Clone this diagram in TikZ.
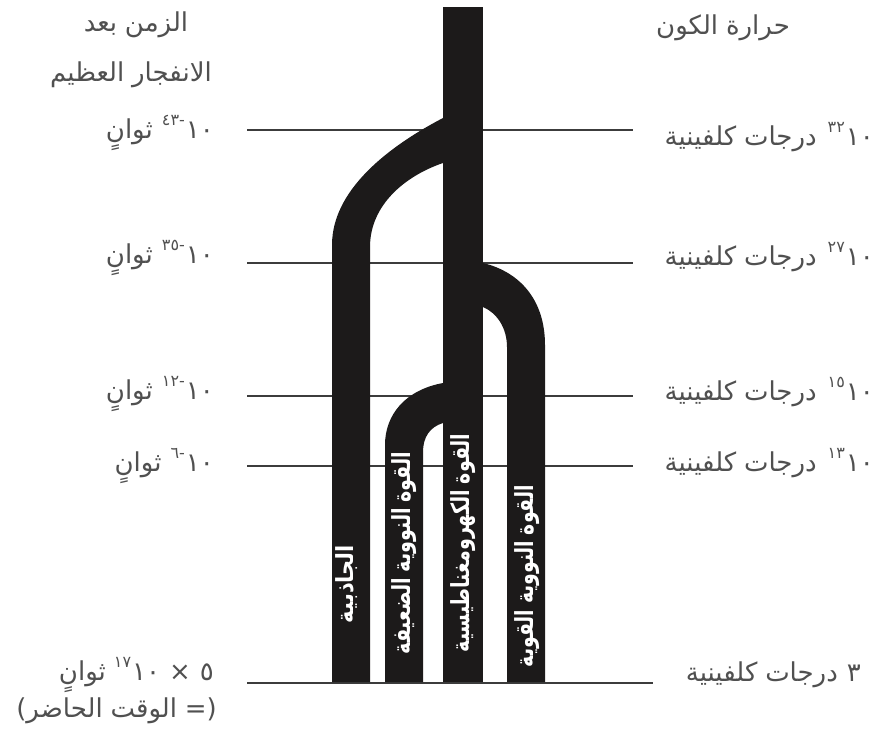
\documentclass[tikz,border=0pt]{standalone}
\usepackage{fontspec}
\usepackage{graphicx}
\TeXXeTstate=1
\newfontfamily\arfont[Script=Arabic]{DejaVu Sans}
\newfontfamily\dvfont[Script=Latin]{DejaVu Sans}
\definecolor{txt}{HTML}{505050}
\definecolor{barc}{HTML}{1C1A1A}
\definecolor{linec}{HTML}{3C3C3C}
% every piece is a separate box, placed in visual order (left to right)
\newcommand{\aw}[1]{\mbox{#1}}
\newcommand{\lat}[1]{\mbox{\dvfont #1}}
\newcommand{\ws}{\hspace{0.3em}}
\newcommand{\ten}{\mbox{١}\mbox{٠}}
\newcommand{\sps}[1]{\raisebox{0.5em}{\fontsize{16}{16}\selectfont #1}}
\begin{document}
\begin{tikzpicture}[x=1pt,y=-1pt,
  lbl/.style={text=txt,font=\arfont\fontsize{26}{30}\selectfont,inner sep=0pt},
  hline/.style={draw=linec,line width=1.8pt},
  bar/.style={fill=barc,draw=none},
  bartxt/.style={text=white,font=\arfont\bfseries,rotate=90,inner sep=0pt}]
\useasboundingbox (0,0) rectangle (881,751);
% horizontal lines
\coordinate (L1a) at (247,130); \coordinate (L1b) at (633,130);
\coordinate (L2a) at (247,263); \coordinate (L2b) at (633,263);
\coordinate (L3a) at (247,396); \coordinate (L3b) at (633,396);
\coordinate (L4a) at (247,466); \coordinate (L4b) at (633,466);
\coordinate (L5a) at (247,683); \coordinate (L5b) at (653,683);
\draw[hline] (L1a) -- (L1b);
\draw[hline] (L2a) -- (L2b);
\draw[hline] (L3a) -- (L3b);
\draw[hline] (L4a) -- (L4b);
\draw[hline] (L5a) -- (L5b);
% trunk
\fill[bar] (443,7) rectangle (483,682);
% gravity branch
\fill[bar] (332,682) -- (332,245) .. controls (332,185) and (399,141) .. (443,118) -- (447,117) -- (447,164) -- (443,163) .. controls (405,176) and (370,205) .. (370,247) -- (370,682) -- cycle;
% strong branch
\fill[bar] (479,263) -- (483,263) .. controls (520,272) and (545,300) .. (545,345) -- (545,682) -- (507,682) -- (507,347) .. controls (507,328) and (497,313) .. (483,307) -- (479,307) -- cycle;
% weak branch
\fill[bar] (385,682) -- (385,445) .. controls (385,415) and (405,390) .. (443,383) -- (447,383) -- (447,423) -- (443,423) .. controls (430,427) and (423,437) .. (423,452) -- (423,682) -- cycle;
% bar texts
\node[bartxt] (tg) at (347,584) {\resizebox*{78pt}{22pt}{\aw{الجاذبية}}};
\node[bartxt] (tw) at (404,553) {\resizebox*{203pt}{25pt}{\aw{الضعيفة}\ws\aw{النووية}\ws\aw{القوة}}};
\node[bartxt] (te) at (463,543) {\resizebox*{219pt}{25pt}{\aw{الكهرومغناطيسية}\ws\aw{القوة}}};
\node[bartxt] (ts) at (527,576) {\resizebox*{182pt}{25pt}{\aw{القوية}\ws\aw{النووية}\ws\aw{القوة}}};
% headings
\node[lbl] (h1) at (136,25) {\aw{بعد}\ws\aw{الزمن}};
\node[lbl] (h2) at (131,75) {\aw{العظيم}\ws\aw{الانفجار}};
\node[lbl] (h3) at (723,28) {\aw{الكون}\ws\aw{حرارة}};
% time labels
\node[lbl,anchor=east] (t1) at (214,133) {\aw{ثوانٍ}\hspace{9pt}\sps{\mbox{٤}\mbox{٣}\lat{-}}\hspace{1pt}\ten};
\node[lbl,anchor=east] (t2) at (214,258) {\aw{ثوانٍ}\hspace{9pt}\sps{\mbox{٣}\mbox{٥}\lat{-}}\hspace{1pt}\ten};
\node[lbl,anchor=east] (t3) at (214,394) {\aw{ثوانٍ}\hspace{9pt}\sps{\mbox{١}\mbox{٢}\lat{-}}\hspace{1pt}\ten};
\node[lbl,anchor=east] (t4) at (214,466) {\aw{ثوانٍ}\hspace{9pt}\sps{\mbox{٦}\lat{-}}\hspace{1pt}\ten};
\node[lbl,anchor=east] (t5) at (214,675) {\aw{ثوانٍ}\hspace{8pt}\sps{\mbox{١}\mbox{٧}}\hspace{1pt}\ten\hspace{9pt}\lat{×}\hspace{9pt}\mbox{٥}};
\node[lbl,anchor=east] (t6) at (217,711) {\lat{(}\aw{الحاضر}\ws\aw{الوقت}\ws\lat{=}\lat{)}};
% temperature labels
\node[lbl,anchor=east] (r1) at (874,137) {\aw{كلفينية}\ws\aw{درجات}\hspace{11pt}\sps{\mbox{٣}\mbox{٢}}\hspace{1pt}\ten};
\node[lbl,anchor=east] (r2) at (874,257) {\aw{كلفينية}\ws\aw{درجات}\hspace{11pt}\sps{\mbox{٢}\mbox{٧}}\hspace{1pt}\ten};
\node[lbl,anchor=east] (r3) at (874,392) {\aw{كلفينية}\ws\aw{درجات}\hspace{11pt}\sps{\mbox{١}\mbox{٥}}\hspace{1pt}\ten};
\node[lbl,anchor=east] (r4) at (874,463) {\aw{كلفينية}\ws\aw{درجات}\hspace{11pt}\sps{\mbox{١}\mbox{٣}}\hspace{1pt}\ten};
\node[lbl,anchor=east] (r5) at (861,675) {\aw{كلفينية}\ws\aw{درجات}\hspace{9pt}\mbox{٣}};
\end{tikzpicture}
\end{document}
